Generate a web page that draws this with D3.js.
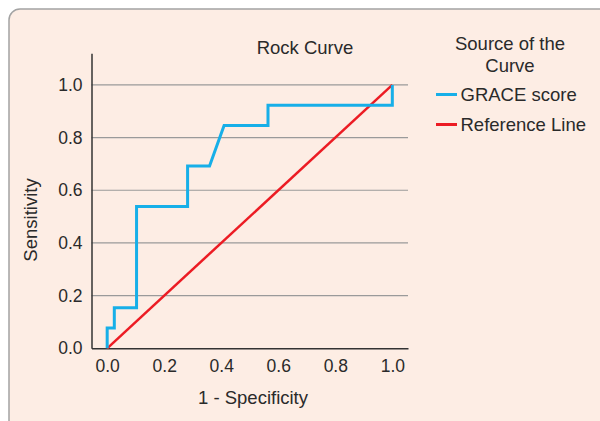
<!DOCTYPE html>
<html>
<head>
<meta charset="utf-8">
<script src="https://cdn.jsdelivr.net/npm/d3@7"></script>
<style>
  html, body { margin: 0; padding: 0; background: #ffffff; }
  svg { display: block; }
  text { font-family: "Liberation Sans", Arial, Helvetica, sans-serif; fill: #2a2a2a; }
</style>
</head>
<body>
<svg id="chart" width="600" height="421"></svg>
<script>
// ---- Data ----
const fpr = [0, 0, 0.025, 0.025, 0.103, 0.103, 0.282, 0.282, 0.359, 0.41, 0.564, 0.564, 1, 1];
const tpr = [0, 0.077, 0.077, 0.154, 0.154, 0.538, 0.538, 0.692, 0.692, 0.846, 0.846, 0.923, 0.923, 1];
const refX = [0, 1];
const refY = [0, 1];
const tickValues = [0, 0.2, 0.4, 0.6, 0.8, 1.0];
const seriesNames = ["GRACE score", "Reference Line"];
const seriesColors = ["#17afe8", "#ec1c24"];

const svg = d3.select("#chart");

// panel background
svg.append("rect")
  .attr("x", 9).attr("y", 9)
  .attr("width", 640).attr("height", 460)
  .attr("rx", 11).attr("ry", 11)
  .attr("fill", "#fdede4")
  .attr("stroke", "#a3a3a3")
  .attr("stroke-width", 1.5);

const x = d3.scaleLinear().domain([-0.055, 1.055]).range([91.5, 408]);
const y = d3.scaleLinear().domain([0, 1.12]).range([348.3, 53.3]);

// gridlines
svg.append("g").selectAll("line")
  .data(tickValues.filter(d => d > 0))
  .join("line")
  .attr("x1", x.range()[0]).attr("x2", x.range()[1])
  .attr("y1", d => y(d)).attr("y2", d => y(d))
  .attr("stroke", "#9a9a9a").attr("stroke-width", 1.2);

// axes
const xAxis = svg.append("g")
  .attr("transform", `translate(0,${y(0)})`)
  .call(d3.axisBottom(x).tickValues(tickValues).tickFormat(d3.format(".1f")).tickSize(0).tickPadding(11.5));
const yAxis = svg.append("g")
  .attr("transform", `translate(${x.range()[0]},0)`)
  .call(d3.axisLeft(y).tickValues(tickValues).tickFormat(d3.format(".1f")).tickSize(0).tickPadding(9));
[xAxis, yAxis].forEach(g => {
  g.select(".domain").attr("stroke", "#333").attr("stroke-width", 1.5);
  g.selectAll("text").attr("font-size", 17.5).attr("fill", "#2a2a2a")
    .attr("font-family", '"Liberation Sans", Arial, sans-serif');
});

// reference line
const line = d3.line().x(d => x(d[0])).y(d => y(d[1]));
svg.append("path")
  .datum(d3.zip(refX, refY))
  .attr("d", line)
  .attr("fill", "none")
  .attr("stroke", seriesColors[1])
  .attr("stroke-width", 2.5);

// ROC curve
svg.append("path")
  .datum(d3.zip(fpr, tpr))
  .attr("d", line)
  .attr("fill", "none")
  .attr("stroke", seriesColors[0])
  .attr("stroke-width", 3)
  .attr("stroke-linejoin", "miter");

// titles
svg.append("text").attr("x", 305).attr("y", 54).attr("text-anchor", "middle")
  .attr("font-size", 18.5).text("Rock Curve");
svg.append("text").attr("x", 253).attr("y", 404).attr("text-anchor", "middle")
  .attr("font-size", 18.5).text("1 - Specificity");
svg.append("text").attr("transform", "translate(37,220) rotate(-90)")
  .attr("text-anchor", "middle").attr("font-size", 18.5).text("Sensitivity");

// legend
svg.append("text").attr("x", 510).attr("y", 50).attr("text-anchor", "middle")
  .attr("font-size", 18.5).text("Source of the");
svg.append("text").attr("x", 510).attr("y", 71.5).attr("text-anchor", "middle")
  .attr("font-size", 18.5).text("Curve");
const leg = svg.append("g").selectAll("g")
  .data(seriesNames)
  .join("g")
  .attr("transform", (d, i) => `translate(0,${94.5 + i * 30})`);
leg.append("line").attr("x1", 436).attr("x2", 457).attr("y1", 0).attr("y2", 0)
  .attr("stroke", (d, i) => seriesColors[i]).attr("stroke-width", 3);
leg.append("text").attr("x", 460.5).attr("y", 6.5).attr("font-size", 18.5).text(d => d);
</script>
</body>
</html>
